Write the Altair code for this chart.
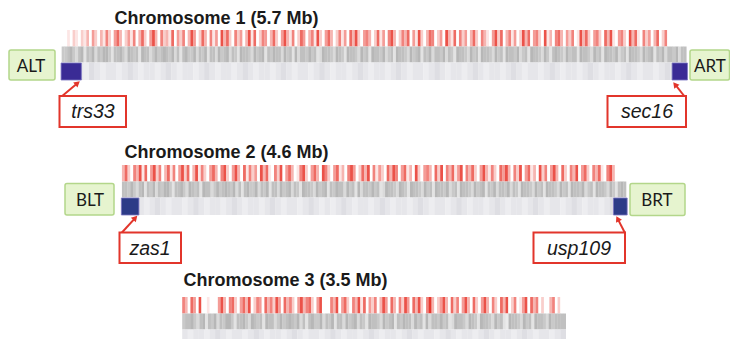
import math
import altair as alt
import pandas as pd

# ---------------- data ----------------
chrom_titles = ["Chromosome 1 (5.7 Mb)", "Chromosome 2 (4.6 Mb)", "Chromosome 3 (3.5 Mb)"]
chrom_mb = [5.7, 4.6, 3.5]
left_telomere = ["ALT", "BLT"]
right_telomere = ["ART", "BRT"]
left_gene = ["trs33", "zas1"]
right_gene = ["sec16", "usp109"]

# stripe intensities along each chromosome (read by eye, 0 = blank)
red_tracks = [
    "00102102130420315204630241503620473052"
    "31604250374026305140736205240371602540"
    "36204731502640351720463025140637204530"
    "26140573025360417203650240731605240362"
    "05310472603514027360452071305630425017"
    "36204520637104520736105240360250000000",
    "36205371604725036150472603715204630572"
    "04730615240736105270463015720463075204"
    "61305740263705142063750461307204530627"
    "05361470536204731520647305270461307250"
    "473062053704620536105730000",
    "5306407001000473056204637025406352740635"
    "20473562047000"
    "5370462053716042503740630527406372058302"
    "4730625047306204730520637025014706350200"
    "350200",
]
gray_tracks = [
    "55675367265736577526675376562766357567"
    "65736267557365726637567365276653756726"
    "57663756273665756237665376527665375627"
    "66573562766537567265736657365276653756"
    "27665375627665735627665375267653756627"
    "66537562766573562766537567265736657366",
    "66575367265736577526675376562766357567"
    "65736267557365726637567365276653756726"
    "57663756273665756237665376527665375627"
    "66573562766537567265736657365276653756"
    "276653756276657356276653752676",
    "5667536726573657752667537656276635756765"
    "7362675573657266375673652766537567265766"
    "3756273665756237665376527665375621766537"
    "56276653756666",
]
light_tracks = [
    "12121321221232122123212212321221232122"
    "12321221232122123212212321221232122123"
    "21221232122123212212321221232122123212",
    "21221232122123212212321221232122123212"
    "12321221232122123212212321221232122123"
    "2122123212212321",
    "2122123212212321221232122123212212321221"
    "232122123212212321221232122123",
]

# ---------------- layout helpers ----------------
PX_PER_MB = 109.6
CENTER_PAGE = 374.0
W, H = 722, 331


def mbx(page_x):
    return (page_x - CENTER_PAGE) / PX_PER_MB


XDOM = [mbx(8), mbx(8 + W)]
YDOM = [8, 8 + H]
track_top = [30, 165, 297]
RED_H, GRAY_H, LIGHT_H = 16.5, 16.0, 17.5

rows = {"red": [], "gray": [], "light": []}
for i, L in enumerate(chrom_mb):
    start = -L / 2
    top = track_top[i]
    spec = [
        ("red", red_tracks[i], top, top + RED_H),
        ("gray", gray_tracks[i], top + RED_H, top + RED_H + GRAY_H),
        ("light", light_tracks[i], top + RED_H + GRAY_H, top + RED_H + GRAY_H + LIGHT_H),
    ]
    for name, s, y0, y1 in spec:
        n = len(s)
        w = L / n
        for j, c in enumerate(s):
            rows[name].append(dict(x=start + j * w, x2=start + (j + 1) * w + 0.002,
                                   y=y0, y2=y1, v=int(c)))

X = lambda f="x": alt.X(f"{f}:Q", scale=alt.Scale(domain=XDOM, nice=False, zero=False), axis=None)
Y = lambda f="y": alt.Y(f"{f}:Q", scale=alt.Scale(domain=YDOM, reverse=True, nice=False, zero=False), axis=None)

red_layer = alt.Chart(pd.DataFrame(rows["red"])).mark_rect(strokeWidth=0).encode(
    x=X(), x2="x2:Q", y=Y(), y2="y2:Q",
    color=alt.Color("v:Q", scale=alt.Scale(domain=[0, 8], range=["#ffffff", "#e8392f"],
                                           interpolate="rgb", clamp=True), legend=None),
)
gray_layer = alt.Chart(pd.DataFrame(rows["gray"])).mark_rect(strokeWidth=0).encode(
    x=X(), x2="x2:Q", y=Y(), y2="y2:Q",
    color=alt.Color("v:Q", scale=alt.Scale(domain=[0, 9], range=["#f4f4f4", "#a6a6a6"],
                                           interpolate="rgb"), legend=None),
)
light_layer = alt.Chart(pd.DataFrame(rows["light"])).mark_rect(strokeWidth=0).encode(
    x=X(), x2="x2:Q", y=Y(), y2="y2:Q",
    color=alt.Color("v:Q", scale=alt.Scale(domain=[0, 3], range=["#f5f5f7", "#dedee3"],
                                           interpolate="rgb"), legend=None),
)

# blue telomere-adjacent gene squares
sq = []
sq_w = [(0.18, 0.13, "#3a2b95"), (0.155, 0.115, "#2c3b87")]
for i in range(2):
    L = chrom_mb[i]
    y0 = track_top[i] + RED_H + GRAY_H + 0.5
    y1 = track_top[i] + RED_H + GRAY_H + LIGHT_H
    lw, rw, col = sq_w[i]
    sq.append(dict(x=-L / 2 - 0.005, x2=-L / 2 + lw, y=y0, y2=y1, c=col))
    sq.append(dict(x=L / 2 - rw, x2=L / 2 + 0.01, y=y0, y2=y1, c=col))
sq_layer = alt.Chart(pd.DataFrame(sq)).mark_rect(stroke="#7a74c0", strokeWidth=0.8).encode(
    x=X(), x2="x2:Q", y=Y(), y2="y2:Q", color=alt.Color("c:N", scale=None)
)

# green telomere boxes
tel = [
    dict(x=mbx(9), x2=mbx(55), y=50, y2=80, tx=mbx(31), ty=72, t=left_telomere[0]),
    dict(x=mbx(690), x2=mbx(729.5), y=50, y2=80, tx=mbx(710), ty=72, t=right_telomere[0]),
    dict(x=mbx(65), x2=mbx(114), y=183.5, y2=215, tx=mbx(90), ty=206, t=left_telomere[1]),
    dict(x=mbx(630), x2=mbx(685), y=183.5, y2=215.5, tx=mbx(657), ty=206, t=right_telomere[1]),
]
tel_df = pd.DataFrame(tel)
tel_box = alt.Chart(tel_df).mark_rect(fill="#e6f4cf", stroke="#b3d68a", strokeWidth=1.5, cornerRadius=2).encode(
    x=X(), x2="x2:Q", y=Y(), y2="y2:Q"
)
tel_txt = alt.Chart(tel_df).mark_text(font="Lato", fontSize=17, color="#1a1a1a", align="center",
                                      baseline="alphabetic").encode(x=X("tx"), y=Y("ty"), text="t:N")

# red gene label boxes
genes = [
    dict(x=mbx(59.5), x2=mbx(126), y=96, y2=127, tx=mbx(93), ty=118, t=left_gene[0],
         sx=61, sy=97, ex=79.5, ey=81.5),
    dict(x=mbx(607.5), x2=mbx(686), y=96, y2=127, tx=mbx(647), ty=118, t=right_gene[0],
         sx=685, sy=97, ex=673.5, ey=82.5),
    dict(x=mbx(119.5), x2=mbx(181), y=232.5, y2=263, tx=mbx(150), ty=254.5, t=left_gene[1],
         sx=121.5, sy=233, ex=137, ey=216),
    dict(x=mbx(533.5), x2=mbx(625), y=232.5, y2=263, tx=mbx(579), ty=254.5, t=right_gene[1],
         sx=625, sy=233, ex=616.5, ey=216.5),
]
for g in genes:
    dx, dy = g["ex"] - g["sx"], g["ey"] - g["sy"]
    d = math.hypot(dx, dy)
    ux, uy = dx / d, dy / d
    g["hx"] = mbx(g["ex"] - ux * 3.5)
    g["hy"] = g["ey"] - uy * 3.5
    g["ang"] = math.degrees(math.atan2(dx, -dy)) % 360
    g["sxm"] = mbx(g["sx"])
gene_df = pd.DataFrame(genes)
RED = "#e2352b"
gene_box = alt.Chart(gene_df).mark_rect(fill="white", stroke=RED, strokeWidth=2).encode(
    x=X(), x2="x2:Q", y=Y(), y2="y2:Q"
)
gene_txt = alt.Chart(gene_df).mark_text(font="Liberation Sans", fontStyle="italic", fontSize=19.5,
                                        color="#1a1a1a", align="center", baseline="alphabetic").encode(
    x=X("tx"), y=Y("ty"), text="t:N"
)
arrow_shaft = alt.Chart(gene_df).mark_rule(color=RED, strokeWidth=2).encode(
    x=X("sxm"), x2="hx:Q", y=Y("sy"), y2="hy:Q"
)
arrow_head = alt.Chart(gene_df).mark_point(shape="triangle", filled=True, size=45, color=RED, opacity=1).encode(
    x=X("hx"), y=Y("hy"), angle=alt.Angle("ang:Q", scale=None)
)

# titles
titles = pd.DataFrame(dict(
    t=chrom_titles,
    x=[mbx(114.5), mbx(124.5), mbx(183.5)],
    y=[24.3, 158, 286],
))
title_layer = alt.Chart(titles).mark_text(font="Liberation Sans", fontWeight="bold", fontSize=18,
                                          color="#1a1a1a", align="left", baseline="alphabetic").encode(
    x=X(), y=Y(), text="t:N"
)

chart = alt.layer(
    red_layer, gray_layer, light_layer, sq_layer, tel_box, tel_txt,
    arrow_shaft, arrow_head, gene_box, gene_txt, title_layer,
).resolve_scale(color="independent").properties(
    width=W, height=H, padding=0, autosize="none", background="white"
).configure_view(stroke=None)

chart.save("out.html", embed_options={"renderer": "svg", "actions": False})
